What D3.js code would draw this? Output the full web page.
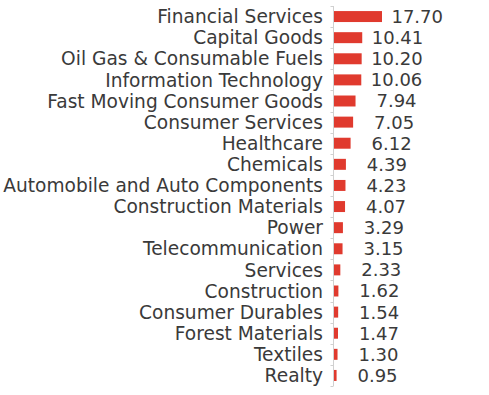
<!DOCTYPE html>
<meta charset="utf-8">
<style>
    body { margin: 0; background: #fff; }
    .label { font-family: "DejaVu Sans", sans-serif; font-size: 18.6px; fill: #3a3a3a; }
    .value { font-family: "DejaVu Sans", sans-serif; font-size: 18px; fill: #3a3a3a; }
    .axis { stroke: #d0d0d0; stroke-width: 1px; }
</style>
<title>Sector allocation</title>
<body>
<script src="https://cdn.jsdelivr.net/npm/d3@7"></script>
<script>
    const sectors = [
        "Financial Services", "Capital Goods", "Oil Gas & Consumable Fuels",
        "Information Technology", "Fast Moving Consumer Goods", "Consumer Services",
        "Healthcare", "Chemicals", "Automobile and Auto Components",
        "Construction Materials", "Power", "Telecommunication", "Services",
        "Construction", "Consumer Durables", "Forest Materials", "Textiles", "Realty"
    ];
    const weights = [17.70, 10.41, 10.20, 10.06, 7.94, 7.05, 6.12, 4.39, 4.23,
                     4.07, 3.29, 3.15, 2.33, 1.62, 1.54, 1.47, 1.30, 0.95];

    const width = 489, height = 395;
    const axisX = 333.5, yTop = 6, yBottom = 386;

    let svg = d3.select("body").append("svg")
        .attr("width", width)
        .attr("height", height);

    let y = d3.scaleBand()
        .domain(sectors)
        .range([yTop, yBottom])
        .paddingInner(0.48)
        .paddingOuter(0.24);

    // 17.70 -> about 48px
    let x = d3.scaleLinear()
        .domain([0, 17.70])
        .range([axisX + 0.5, axisX + 48.5]);

    // axis line and band-boundary ticks
    svg.append("line")
        .attr("class", "axis")
        .attr("x1", axisX).attr("x2", axisX)
        .attr("y1", yTop).attr("y2", yBottom);

    svg.append("g")
        .selectAll("line")
        .data(d3.range(sectors.length + 1))
        .enter().append("line")
        .attr("class", "axis")
        .attr("x1", axisX - 3).attr("x2", axisX)
        .attr("y1", i => Math.round(yTop + i * y.step()) + 0.5)
        .attr("y2", i => Math.round(yTop + i * y.step()) + 0.5);

    let rows = sectors.map((s, i) => ({name: s, value: weights[i]}));

    svg.append("g")
        .selectAll("rect")
        .data(rows)
        .enter().append("rect")
        .attr("x", x(0))
        .attr("y", d => y(d.name))
        .attr("width", d => x(d.value) - x(0))
        .attr("height", y.bandwidth())
        .attr("fill", "#e03a2e");

    svg.append("g")
        .selectAll("text")
        .data(rows)
        .enter().append("text")
        .attr("class", "label")
        .attr("x", axisX - 10.5)
        .attr("y", d => y(d.name) + y.bandwidth() / 2)
        .attr("dy", "0.36em")
        .attr("text-anchor", "end")
        .text(d => d.name);

    // labels sit right-aligned a fixed distance past the bar end
    svg.append("g")
        .selectAll("text")
        .data(rows)
        .enter().append("text")
        .attr("class", "value")
        .attr("x", d => x(d.value) + 61)
        .attr("y", d => y(d.name) + y.bandwidth() / 2)
        .attr("dy", "0.36em")
        .attr("text-anchor", "end")
        .text(d => d.value.toFixed(2));
</script>
</body>
